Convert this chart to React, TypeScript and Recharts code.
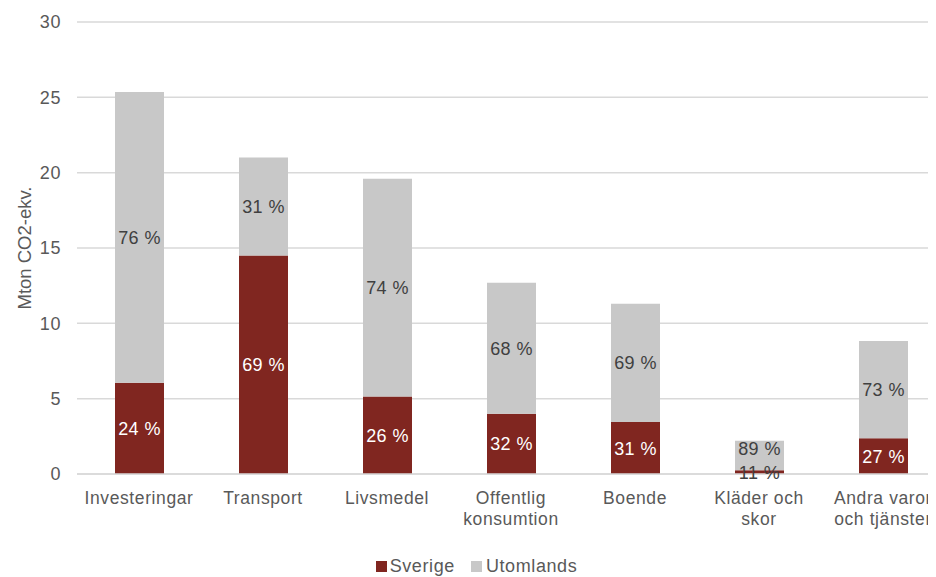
import React from "react";
import { BarChart, Bar, XAxis, YAxis, CartesianGrid, Legend, LabelList, Label } from "recharts";

const categories = ["Investeringar", "Transport", "Livsmedel", "Offentlig\nkonsumtion", "Boende", "Kläder och\nskor", "Andra varor\noch tjänster"];
const sverige = [6.05, 14.5, 5.15, 4.0, 3.45, 0.25, 2.38];
const utomlands = [19.3, 6.5, 14.45, 8.7, 7.85, 1.95, 6.45];
const sverigePct = ["24 %", "69 %", "26 %", "32 %", "31 %", "11 %", "27 %"];
const utomlandsPct = ["76 %", "31 %", "74 %", "68 %", "69 %", "89 %", "73 %"];
const yTicks = [0, 5, 10, 15, 20, 25, 30];

const data = categories.map((c, i) => ({
  name: c,
  Sverige: sverige[i],
  Utomlands: utomlands[i],
  sp: sverigePct[i],
  up: utomlandsPct[i],
}));

const FONT = "'Liberation Sans', Arial, sans-serif";
const RED = "#802620";
const GRAY = "#C8C8C8";
const TEXT = "#595959";

const XTick = (props: any) => {
  const { x, y, payload } = props;
  const lines = String(payload.value).split("\n");
  return (
    <text x={x} y={y} textAnchor="middle" fill={TEXT} fontSize={17.5} letterSpacing={0.6} fontFamily={FONT}>
      {lines.map((l, i) => (
        <tspan key={i} x={x} dy={i === 0 ? 22 : 21}>{l}</tspan>
      ))}
    </text>
  );
};

const makeLabel = (key: "sp" | "up", light: boolean) => (props: any) => {
  const { x, y, width, height, index } = props;
  const txt = key === "sp" ? sverigePct[index] : utomlandsPct[index];
  const fill = light && height > 14 ? "#FFFFFF" : "#404040";
  const shift = !light && height < 40 ? -7 : 0;
  return (
    <text x={x + width / 2} y={y + height / 2 + shift} dy={6.5} textAnchor="middle" fill={fill} fontSize={18} letterSpacing={0.4} fontFamily={FONT}>
      {txt}
    </text>
  );
};

const YLabel = () => (
  <text x={16} y={240} transform="rotate(-90 16 240)" textAnchor="middle" dominantBaseline="central" fill={TEXT} fontSize={18.5} fontFamily={FONT}>
    Mton CO2-ekv.
  </text>
);

const LegendContent = () => (
  <div style={{ display: "flex", justifyContent: "center", alignItems: "center", fontFamily: FONT, fontSize: 18, letterSpacing: 0.6, color: TEXT, paddingTop: 9 }}>
    <span style={{ display: "inline-block", width: 11, height: 11, background: RED, marginRight: 3 }} />
    <span style={{ marginRight: 16 }}>Sverige</span>
    <span style={{ display: "inline-block", width: 11, height: 11, background: GRAY, marginRight: 4 }} />
    <span>Utomlands</span>
  </div>
);

export default function App() {
  return (
    <div style={{ width: 928, height: 569, overflow: "hidden", background: "#fff" }}>
      <BarChart width={950} height={569} data={data} margin={{ top: 14, right: 13, left: 0, bottom: 0 }} barCategoryGap={0}>
        <CartesianGrid vertical={false} stroke="#D9D9D9" strokeWidth={1.5} />
        <XAxis dataKey="name" tick={<XTick />} tickLine={false} axisLine={{ stroke: "#D9D9D9", strokeWidth: 1.5 }} height={73} interval={0} />
        <YAxis
          domain={[0, 30]}
          ticks={yTicks}
          width={69}
          tickLine={false}
          axisLine={false}
          tickSize={0}
          tickMargin={16}
          tick={{ fill: TEXT, fontSize: 18, fontFamily: FONT, letterSpacing: 0.6 }}
        >
          <Label content={<YLabel />} />
        </YAxis>
        <Legend verticalAlign="bottom" height={30} content={<LegendContent />} />
        <Bar dataKey="Sverige" stackId="a" fill={RED} barSize={49} isAnimationActive={false}>
          <LabelList dataKey="sp" content={makeLabel("sp", true)} />
        </Bar>
        <Bar dataKey="Utomlands" stackId="a" fill={GRAY} barSize={49} isAnimationActive={false}>
          <LabelList dataKey="up" content={makeLabel("up", false)} />
        </Bar>
      </BarChart>
    </div>
  );
}
